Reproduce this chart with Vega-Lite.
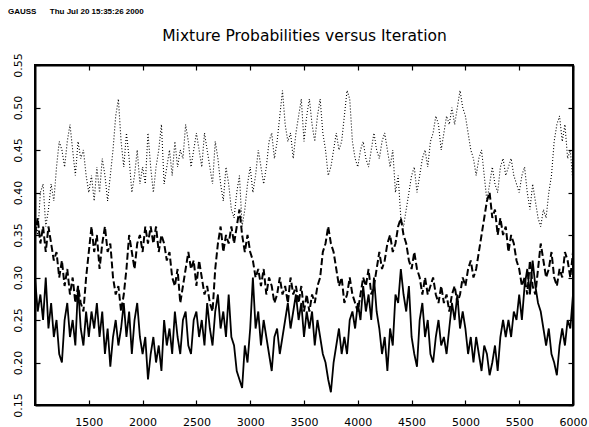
{
  "$schema": "https://vega.github.io/schema/vega-lite/v6.json",
  "width": 538,
  "height": 340,
  "autosize": "none",
  "padding": {"left": 35, "top": 65, "right": 16, "bottom": 22},
  "background": "white",
  "config": {
    "view": {"stroke": "black", "strokeWidth": 2},
    "font": "DejaVu Sans",
    "axis": {
      "domainColor": "black", "domainWidth": 2,
      "tickColor": "black", "tickWidth": 1.2, "tickSize": -5,
      "labelColor": "black", "labelFont": "DejaVu Sans", "labelFontSize": 11,
      "grid": false
    }
  },
  "title": {
    "text": "GAUSS\u00a0\u00a0\u00a0\u00a0\u00a0\u00a0Thu Jul 20 15:35:26 2000",
    "anchor": "start", "frame": "group", "dx": -27, "offset": 12,
    "font": "Liberation Sans", "fontSize": 8, "fontWeight": "bold", "color": "black"
  },
  "data": {"values": [
    {"i":1000,"d":0.37,"m":0.35,"s":0.30},{"i":1025,"d":0.35,"m":0.37,"s":0.26},{"i":1050,"d":0.40,"m":0.34,"s":0.28},{"i":1075,"d":0.41,"m":0.36,"s":0.25},
    {"i":1100,"d":0.36,"m":0.33,"s":0.30},{"i":1125,"d":0.38,"m":0.36,"s":0.24},{"i":1150,"d":0.41,"m":0.34,"s":0.27},{"i":1175,"d":0.39,"m":0.32,"s":0.23},
    {"i":1200,"d":0.43,"m":0.33,"s":0.25},{"i":1225,"d":0.46,"m":0.30,"s":0.21},{"i":1250,"d":0.45,"m":0.32,"s":0.20},{"i":1275,"d":0.43,"m":0.29,"s":0.25},
    {"i":1300,"d":0.46,"m":0.31,"s":0.27},{"i":1325,"d":0.48,"m":0.28,"s":0.23},{"i":1350,"d":0.45,"m":0.30,"s":0.25},{"i":1375,"d":0.42,"m":0.27,"s":0.22},
    {"i":1400,"d":0.46,"m":0.29,"s":0.29},{"i":1425,"d":0.44,"m":0.27,"s":0.24},{"i":1450,"d":0.45,"m":0.26,"s":0.22},{"i":1475,"d":0.42,"m":0.30,"s":0.26},
    {"i":1500,"d":0.40,"m":0.33,"s":0.23},{"i":1525,"d":0.42,"m":0.36,"s":0.26},{"i":1550,"d":0.39,"m":0.33,"s":0.24},{"i":1575,"d":0.43,"m":0.35,"s":0.27},
    {"i":1600,"d":0.40,"m":0.31,"s":0.23},{"i":1625,"d":0.44,"m":0.34,"s":0.26},{"i":1650,"d":0.42,"m":0.36,"s":0.21},{"i":1675,"d":0.39,"m":0.33,"s":0.24},
    {"i":1700,"d":0.42,"m":0.34,"s":0.195},{"i":1725,"d":0.45,"m":0.30,"s":0.23},{"i":1750,"d":0.49,"m":0.28,"s":0.25},{"i":1775,"d":0.51,"m":0.29,"s":0.22},
    {"i":1800,"d":0.46,"m":0.26,"s":0.24},{"i":1825,"d":0.43,"m":0.28,"s":0.27},{"i":1850,"d":0.47,"m":0.31,"s":0.23},{"i":1875,"d":0.44,"m":0.35,"s":0.26},
    {"i":1900,"d":0.40,"m":0.33,"s":0.21},{"i":1925,"d":0.42,"m":0.31,"s":0.25},{"i":1950,"d":0.45,"m":0.34,"s":0.27},{"i":1975,"d":0.41,"m":0.35,"s":0.23},
    {"i":2000,"d":0.43,"m":0.33,"s":0.21},{"i":2025,"d":0.41,"m":0.36,"s":0.23},{"i":2050,"d":0.47,"m":0.34,"s":0.18},{"i":2075,"d":0.43,"m":0.36,"s":0.21},
    {"i":2100,"d":0.40,"m":0.34,"s":0.23},{"i":2125,"d":0.43,"m":0.36,"s":0.20},{"i":2150,"d":0.45,"m":0.33,"s":0.22},{"i":2175,"d":0.48,"m":0.35,"s":0.19},
    {"i":2200,"d":0.41,"m":0.34,"s":0.25},{"i":2225,"d":0.43,"m":0.32,"s":0.22},{"i":2250,"d":0.45,"m":0.33,"s":0.24},{"i":2275,"d":0.42,"m":0.30,"s":0.21},
    {"i":2300,"d":0.46,"m":0.29,"s":0.26},{"i":2325,"d":0.43,"m":0.31,"s":0.23},{"i":2350,"d":0.45,"m":0.27,"s":0.21},{"i":2375,"d":0.44,"m":0.29,"s":0.25},
    {"i":2400,"d":0.48,"m":0.31,"s":0.26},{"i":2425,"d":0.46,"m":0.33,"s":0.22},{"i":2450,"d":0.43,"m":0.31,"s":0.21},{"i":2475,"d":0.45,"m":0.32,"s":0.25},
    {"i":2500,"d":0.47,"m":0.29,"s":0.26},{"i":2525,"d":0.45,"m":0.32,"s":0.23},{"i":2550,"d":0.43,"m":0.30,"s":0.25},{"i":2575,"d":0.47,"m":0.28,"s":0.22},
    {"i":2600,"d":0.45,"m":0.29,"s":0.27},{"i":2625,"d":0.43,"m":0.27,"s":0.24},{"i":2650,"d":0.41,"m":0.26,"s":0.22},{"i":2675,"d":0.46,"m":0.31,"s":0.26},
    {"i":2700,"d":0.44,"m":0.34,"s":0.28},{"i":2725,"d":0.41,"m":0.36,"s":0.24},{"i":2750,"d":0.39,"m":0.33,"s":0.26},{"i":2775,"d":0.43,"m":0.35,"s":0.23},
    {"i":2800,"d":0.41,"m":0.34,"s":0.28},{"i":2825,"d":0.38,"m":0.36,"s":0.23},{"i":2850,"d":0.37,"m":0.34,"s":0.22},{"i":2875,"d":0.40,"m":0.36,"s":0.19},
    {"i":2900,"d":0.42,"m":0.38,"s":0.18},{"i":2925,"d":0.36,"m":0.35,"s":0.17},{"i":2950,"d":0.38,"m":0.33,"s":0.22},{"i":2975,"d":0.41,"m":0.35,"s":0.20},
    {"i":3000,"d":0.43,"m":0.33,"s":0.24},{"i":3025,"d":0.40,"m":0.32,"s":0.30},{"i":3050,"d":0.42,"m":0.30,"s":0.24},{"i":3075,"d":0.45,"m":0.31,"s":0.26},
    {"i":3100,"d":0.43,"m":0.29,"s":0.22},{"i":3125,"d":0.41,"m":0.31,"s":0.25},{"i":3150,"d":0.43,"m":0.28,"s":0.23},{"i":3175,"d":0.46,"m":0.30,"s":0.21},
    {"i":3200,"d":0.47,"m":0.29,"s":0.19},{"i":3225,"d":0.44,"m":0.27,"s":0.23},{"i":3250,"d":0.46,"m":0.28,"s":0.24},{"i":3275,"d":0.49,"m":0.30,"s":0.21},
    {"i":3300,"d":0.52,"m":0.28,"s":0.23},{"i":3325,"d":0.48,"m":0.29,"s":0.25},{"i":3350,"d":0.46,"m":0.27,"s":0.27},{"i":3375,"d":0.47,"m":0.30,"s":0.24},
    {"i":3400,"d":0.44,"m":0.28,"s":0.26},{"i":3425,"d":0.47,"m":0.29,"s":0.28},{"i":3450,"d":0.49,"m":0.27,"s":0.25},{"i":3475,"d":0.51,"m":0.29,"s":0.27},
    {"i":3500,"d":0.46,"m":0.26,"s":0.23},{"i":3525,"d":0.49,"m":0.28,"s":0.26},{"i":3550,"d":0.51,"m":0.26,"s":0.24},{"i":3575,"d":0.48,"m":0.28,"s":0.26},
    {"i":3600,"d":0.46,"m":0.27,"s":0.22},{"i":3625,"d":0.49,"m":0.29,"s":0.25},{"i":3650,"d":0.51,"m":0.30,"s":0.23},{"i":3675,"d":0.47,"m":0.33,"s":0.21},
    {"i":3700,"d":0.45,"m":0.34,"s":0.20},{"i":3725,"d":0.42,"m":0.36,"s":0.18},{"i":3750,"d":0.43,"m":0.34,"s":0.165},{"i":3775,"d":0.45,"m":0.33,"s":0.20},
    {"i":3800,"d":0.47,"m":0.31,"s":0.22},{"i":3825,"d":0.45,"m":0.29,"s":0.24},{"i":3850,"d":0.46,"m":0.30,"s":0.21},{"i":3875,"d":0.49,"m":0.27,"s":0.23},
    {"i":3900,"d":0.52,"m":0.28,"s":0.21},{"i":3925,"d":0.51,"m":0.30,"s":0.25},{"i":3950,"d":0.46,"m":0.28,"s":0.26},{"i":3975,"d":0.44,"m":0.27,"s":0.24},
    {"i":4000,"d":0.43,"m":0.26,"s":0.27},{"i":4025,"d":0.45,"m":0.28,"s":0.25},{"i":4050,"d":0.46,"m":0.30,"s":0.29},{"i":4075,"d":0.44,"m":0.29,"s":0.26},
    {"i":4100,"d":0.43,"m":0.31,"s":0.28},{"i":4125,"d":0.45,"m":0.28,"s":0.25},{"i":4150,"d":0.47,"m":0.29,"s":0.30},{"i":4175,"d":0.45,"m":0.31,"s":0.26},
    {"i":4200,"d":0.44,"m":0.33,"s":0.24},{"i":4225,"d":0.46,"m":0.31,"s":0.21},{"i":4250,"d":0.47,"m":0.32,"s":0.23},{"i":4275,"d":0.45,"m":0.34,"s":0.19},
    {"i":4300,"d":0.43,"m":0.35,"s":0.24},{"i":4325,"d":0.45,"m":0.33,"s":0.22},{"i":4350,"d":0.40,"m":0.34,"s":0.28},{"i":4375,"d":0.42,"m":0.36,"s":0.27},
    {"i":4400,"d":0.37,"m":0.37,"s":0.31},{"i":4425,"d":0.36,"m":0.35,"s":0.28},{"i":4450,"d":0.38,"m":0.34,"s":0.26},{"i":4475,"d":0.40,"m":0.32,"s":0.29},
    {"i":4500,"d":0.42,"m":0.31,"s":0.23},{"i":4525,"d":0.43,"m":0.33,"s":0.21},{"i":4550,"d":0.40,"m":0.31,"s":0.195},{"i":4575,"d":0.42,"m":0.30,"s":0.25},
    {"i":4600,"d":0.44,"m":0.28,"s":0.27},{"i":4625,"d":0.45,"m":0.30,"s":0.23},{"i":4650,"d":0.43,"m":0.28,"s":0.25},{"i":4675,"d":0.46,"m":0.29,"s":0.21},
    {"i":4700,"d":0.47,"m":0.30,"s":0.20},{"i":4725,"d":0.49,"m":0.28,"s":0.23},{"i":4750,"d":0.48,"m":0.27,"s":0.25},{"i":4775,"d":0.45,"m":0.29,"s":0.22},
    {"i":4800,"d":0.47,"m":0.27,"s":0.23},{"i":4825,"d":0.49,"m":0.28,"s":0.21},{"i":4850,"d":0.48,"m":0.26,"s":0.24},{"i":4875,"d":0.50,"m":0.28,"s":0.27},
    {"i":4900,"d":0.48,"m":0.29,"s":0.25},{"i":4925,"d":0.50,"m":0.27,"s":0.28},{"i":4950,"d":0.52,"m":0.28,"s":0.24},{"i":4975,"d":0.50,"m":0.30,"s":0.26},
    {"i":5000,"d":0.49,"m":0.29,"s":0.24},{"i":5025,"d":0.47,"m":0.31,"s":0.21},{"i":5050,"d":0.45,"m":0.32,"s":0.23},{"i":5075,"d":0.44,"m":0.30,"s":0.20},
    {"i":5100,"d":0.42,"m":0.31,"s":0.23},{"i":5125,"d":0.44,"m":0.33,"s":0.21},{"i":5150,"d":0.45,"m":0.35,"s":0.19},{"i":5175,"d":0.42,"m":0.37,"s":0.22},
    {"i":5200,"d":0.39,"m":0.39,"s":0.21},{"i":5225,"d":0.41,"m":0.40,"s":0.185},{"i":5250,"d":0.43,"m":0.37,"s":0.20},{"i":5275,"d":0.41,"m":0.38,"s":0.22},
    {"i":5300,"d":0.40,"m":0.35,"s":0.19},{"i":5325,"d":0.43,"m":0.37,"s":0.23},{"i":5350,"d":0.44,"m":0.35,"s":0.25},{"i":5375,"d":0.42,"m":0.36,"s":0.23},
    {"i":5400,"d":0.43,"m":0.33,"s":0.25},{"i":5425,"d":0.44,"m":0.35,"s":0.23},{"i":5450,"d":0.42,"m":0.34,"s":0.26},{"i":5475,"d":0.41,"m":0.32,"s":0.25},
    {"i":5500,"d":0.40,"m":0.31,"s":0.28},{"i":5525,"d":0.42,"m":0.29,"s":0.25},{"i":5550,"d":0.43,"m":0.30,"s":0.29},{"i":5575,"d":0.40,"m":0.28,"s":0.31},
    {"i":5600,"d":0.38,"m":0.32,"s":0.28},{"i":5625,"d":0.41,"m":0.29,"s":0.32},{"i":5650,"d":0.39,"m":0.28,"s":0.29},{"i":5675,"d":0.37,"m":0.31,"s":0.27},
    {"i":5700,"d":0.36,"m":0.34,"s":0.26},{"i":5725,"d":0.38,"m":0.32,"s":0.24},{"i":5750,"d":0.37,"m":0.30,"s":0.22},{"i":5775,"d":0.40,"m":0.31,"s":0.24},
    {"i":5800,"d":0.42,"m":0.33,"s":0.21},{"i":5825,"d":0.46,"m":0.30,"s":0.20},{"i":5850,"d":0.48,"m":0.29,"s":0.185},{"i":5875,"d":0.49,"m":0.31,"s":0.22},
    {"i":5900,"d":0.46,"m":0.30,"s":0.24},{"i":5925,"d":0.48,"m":0.33,"s":0.22},{"i":5950,"d":0.44,"m":0.32,"s":0.25},{"i":5975,"d":0.45,"m":0.30,"s":0.24},
    {"i":6000,"d":0.41,"m":0.33,"s":0.28}
  ]},
  "layer": [
    {
      "mark": {"type": "line", "color": "black", "strokeWidth": 1.1, "strokeDash": [1, 2]},
      "encoding": {
        "x": {"field": "i", "type": "quantitative",
              "scale": {"domain": [1000, 6000], "nice": false},
              "axis": {"orient": "bottom", "title": null, "format": "d",
                       "values": [1500,2000,2500,3000,3500,4000,4500,5000,5500,6000],
                       "labelPadding": 16, "labelFlush": false}},
        "y": {"field": "d", "type": "quantitative",
              "scale": {"domain": [0.15, 0.55], "nice": false, "zero": false},
              "axis": {"orient": "left", "title": null, "values": [0.15,0.2,0.25,0.3,0.35,0.4,0.45,0.5,0.55],
                       "format": ".2f", "labelAngle": -90, "labelPadding": 17, "labelFlush": false}}
      }
    },
    {
      "mark": {"type": "line", "color": "black", "strokeWidth": 2, "strokeDash": [7, 3]},
      "encoding": {
        "x": {"field": "i", "type": "quantitative", "axis": null},
        "y": {"field": "m", "type": "quantitative", "axis": null}
      }
    },
    {
      "mark": {"type": "line", "color": "black", "strokeWidth": 1.8},
      "encoding": {
        "x": {"field": "i", "type": "quantitative", "axis": null},
        "y": {"field": "s", "type": "quantitative", "axis": null}
      }
    },
    {
      "mark": {"type": "line", "opacity": 0},
      "encoding": {
        "x": {"field": "i", "type": "quantitative",
              "axis": {"orient": "top", "labels": false, "values": [1500,2000,2500,3000,3500,4000,4500,5000,5500,6000],
                       "title": "Mixture Probabilities versus Iteration", "titleFont": "DejaVu Sans",
                       "titleFontSize": 15.5, "titleFontWeight": "normal", "titleColor": "black", "titlePadding": 21}},
        "y": {"field": "s", "type": "quantitative",
              "axis": {"orient": "right", "labels": false, "title": null, "values": [0.15,0.2,0.25,0.3,0.35,0.4,0.45,0.5,0.55]}}
      }
    }
  ],
  "resolve": {"axis": {"x": "independent", "y": "independent"}}
}
